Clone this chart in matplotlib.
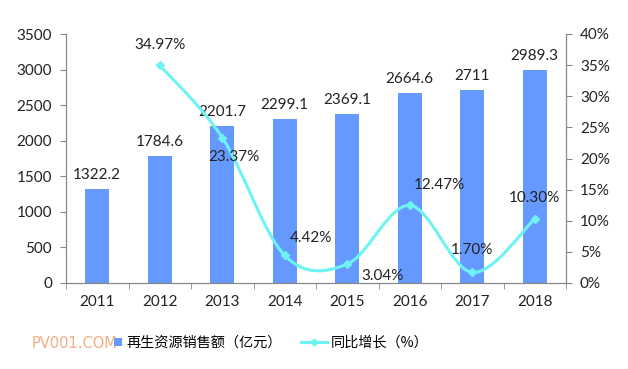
import matplotlib
matplotlib.use('Agg')
import matplotlib.pyplot as plt
import numpy as np
from matplotlib.path import Path
from matplotlib.patches import PathPatch, Patch
from matplotlib.lines import Line2D

years = ['2011', '2012', '2013', '2014', '2015', '2016', '2017', '2018']
sales = [1322.2, 1784.6, 2201.7, 2299.1, 2369.1, 2664.6, 2711, 2989.3]
growth_years = ['2012', '2013', '2014', '2015', '2016', '2017', '2018']
growth = [34.97, 23.37, 4.42, 3.04, 12.47, 1.70, 10.30]

bar_color = '#6699FF'
line_color = '#6EF3F5'
num_font = 'Lato'
cjk = ['Noto Sans CJK SC', 'DejaVu Sans']

fig = plt.figure(figsize=(6.28, 3.69), dpi=100)
ax = fig.add_axes([66 / 628, 1 - 283 / 369, 500 / 628, 249 / 369])
ax2 = ax.twinx()

x = np.arange(len(years))
ax.bar(x, sales, width=0.385, color=bar_color, zorder=2)
ax.set_xlim(-0.5, len(years) - 0.5)
ax.set_ylim(0, 3500)
ax.set_yticks(np.arange(0, 3501, 500))
ax.set_xticks(x)
ax.set_xticklabels(years)
ax.set_xticks(np.arange(-0.5, len(years)), minor=True)
ax.tick_params(axis='x', which='major', length=0, pad=9)
ax.tick_params(axis='x', which='minor', length=4, color='#888888')
ax.tick_params(axis='y', length=4, color='#888888', pad=6)

for i, v in enumerate(sales):
    ax.text(x[i], v + 100, '%g' % v, ha='center', va='bottom',
            fontsize=11, family=num_font, color='#222222')

# smoothed growth line (bezier through the points, like excel)
gx = np.array([years.index(y) for y in growth_years], dtype=float)
gy = np.array(growth)
pts = np.column_stack([gx, gy])
verts = [pts[0]]
codes = [Path.MOVETO]
n = len(pts)
for i in range(n - 1):
    p0 = pts[i - 1] if i > 0 else pts[i]
    p3 = pts[i + 2] if i + 2 < n else pts[i + 1]
    c1 = pts[i] + (pts[i + 1] - p0) / 6
    c2 = pts[i + 1] - (p3 - pts[i]) / 6
    verts += [c1, c2, pts[i + 1]]
    codes += [Path.CURVE4] * 3
ax2.add_patch(PathPatch(Path(verts, codes), fill=False, edgecolor=line_color,
                        lw=2.2, zorder=3))
ax2.plot(gx, gy, linestyle='none', marker='D', markersize=4.5,
         color=line_color, zorder=4)
ax2.set_ylim(0, 40)
ax2.set_yticks(np.arange(0, 41, 5))
ax2.set_yticklabels(['%d%%' % t for t in range(0, 41, 5)])
ax2.tick_params(axis='y', length=4, color='#888888', pad=6)

label_off = {
    '2012': (0, 3.3),
    '2013': (0.18, -3.1),
    '2014': (0.42, 2.8),
    '2015': (0.56, -1.9),
    '2016': (0.48, 3.3),
    '2017': (0.0, 3.6),
    '2018': (0.0, 3.4),
}
for yr, v in zip(growth_years, growth):
    dx, dy = label_off[yr]
    ax2.text(years.index(yr) + dx, v + dy, '%.2f%%' % v, ha='center',
             va='center', fontsize=11, family=num_font, color='#222222',
             zorder=5)

for a in (ax, ax2):
    a.spines['top'].set_visible(False)
    for s in ('left', 'right', 'bottom'):
        a.spines[s].set_color('#888888')
        a.spines[s].set_linewidth(0.8)
    for lab in a.get_xticklabels() + a.get_yticklabels():
        lab.set_family(num_font)
        lab.set_fontsize(11)
        lab.set_color('#222222')

fig.text(32 / 628, 1 - 344 / 369, 'PV001.COM', color='#F4A273', fontsize=10.5,
         family='DejaVu Sans', va='center', ha='left', alpha=0.9)

leg1 = fig.legend([Patch(facecolor=bar_color, edgecolor='none')],
                  ['再生资源销售额（亿元）'], loc='center left',
                  bbox_to_anchor=(114 / 628, 1 - 343 / 369), frameon=False,
                  borderpad=0, borderaxespad=0, handlelength=0.55,
                  handleheight=0.55, handletextpad=0.3,
                  prop={'family': cjk, 'size': 10.2})
leg2 = fig.legend([Line2D([0], [0], color=line_color, lw=2.2, marker='D',
                          markersize=3.5)],
                  ['同比增长（%）'], loc='center left',
                  bbox_to_anchor=(301 / 628, 1 - 343 / 369), frameon=False,
                  borderpad=0, borderaxespad=0, handlelength=1.8,
                  handletextpad=0.3, prop={'family': cjk, 'size': 10.2})

fig.savefig('out.png', dpi=100)
